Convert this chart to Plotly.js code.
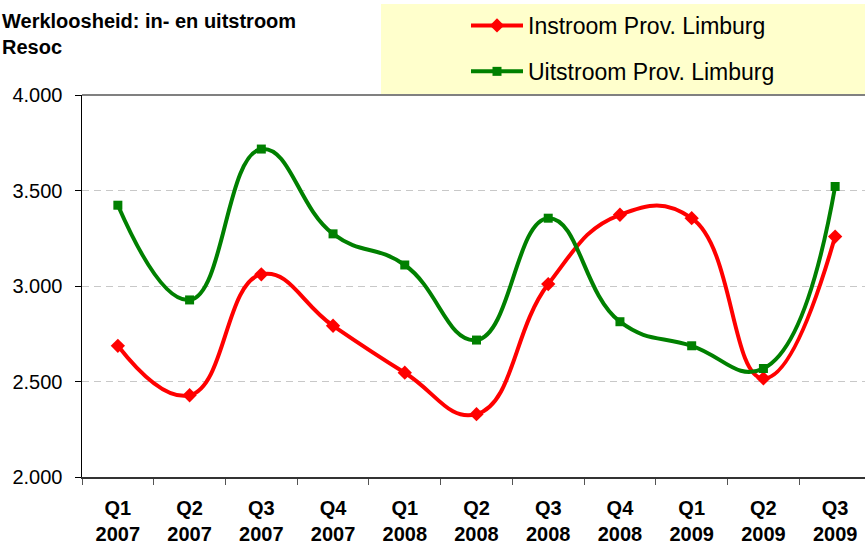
<!DOCTYPE html>
<html>
<head>
<meta charset="utf-8">
<script src="https://cdn.plot.ly/plotly-3.0.1.min.js"></script>
<style>
html,body{margin:0;padding:0;overflow:hidden;background:#fff;}
#chart{width:880px;height:544px;}
</style>
</head>
<body>
<div id="chart"></div>
<script>
var quarters = ['Q1','Q2','Q3','Q4','Q1','Q2','Q3','Q4','Q1','Q2','Q3'];
var years = ['2007','2007','2007','2007','2008','2008','2008','2008','2009','2009','2009'];
var instroom = [2687, 2428, 3061, 2792, 2546, 2329, 3010, 3373, 3355, 2516, 3259];
var uitstroom = [3423, 2927, 3717, 3273, 3110, 2717, 3355, 2813, 2687, 2568, 3521];
var seriesNames = ['Instroom Prov. Limburg', 'Uitstroom Prov. Limburg'];
var titleText = 'Werkloosheid: in- en uitstroom<br>Resoc';

var labels = quarters.map(function(q, i){ return q + '<br>' + years[i]; });

var W = 880, H = 544, ml = 82, mr = 9, mt = 95, mb = 67;
var pw = W - ml - mr, ph = H - mt - mb;
function px2x(p){ return (p - ml) / pw; }
function py2y(p){ return 1 + (mt - p) / ph; }

var FONT = 'Liberation Sans, Arial, sans-serif';

var traces = [
  {
    x: labels, y: instroom, name: seriesNames[0], type: 'scatter', mode: 'lines+markers',
    legendgroup: 'a',
    line: {color: '#FF0000', width: 4, shape: 'spline', smoothing: 1.3},
    marker: {symbol: 'diamond', size: 11, color: '#FF0000'}
  },
  {
    x: labels, y: uitstroom, name: seriesNames[1], type: 'scatter', mode: 'lines+markers',
    legendgroup: 'b',
    line: {color: '#008000', width: 4, shape: 'spline', smoothing: 1.3},
    marker: {symbol: 'square', size: 9, color: '#008000'}
  }
];

var layout = {
  width: W, height: H,
  margin: {l: ml, r: mr, t: mt, b: mb, pad: 0, autoexpand: false},
  paper_bgcolor: '#ffffff', plot_bgcolor: '#ffffff',
  separators: ',.',
  font: {family: FONT, color: '#000000'},
  showlegend: true,
  legend: {
    x: px2x(466), xanchor: 'left', xref: 'paper',
    y: py2y(4), yanchor: 'top', yref: 'paper',
    bgcolor: 'rgba(0,0,0,0)', borderwidth: 0,
    font: {family: FONT, size: 23, color: '#000000'},
    traceorder: 'grouped', tracegroupgap: 13,
    itemwidth: 52
  },
  xaxis: {
    type: 'category', range: [-0.5, 10.5],
    showgrid: false, zeroline: false,
    showline: true, linecolor: '#333333', linewidth: 1.5,
    ticks: 'outside', ticklen: 6, tickcolor: '#555555', tickwidth: 1,
    tickson: 'boundaries',
    tickfont: {family: FONT, size: 20, color: '#000000', weight: 'bold'},
    ticklabelstandoff: 12,
    automargin: false,
    fixedrange: true
  },
  yaxis: {
    range: [2000, 4000], dtick: 500, tick0: 2000,
    tickformat: ',.0f',
    showgrid: true, gridcolor: '#C8C8C8', gridwidth: 1, griddash: '7px,5px',
    zeroline: false,
    showline: true, linecolor: '#000000', linewidth: 1.5,
    ticks: 'outside', ticklen: 6, tickcolor: '#000000', tickwidth: 1,
    tickfont: {family: FONT, size: 20, color: '#000000'},
    ticklabelstandoff: 8,
    automargin: false,
    fixedrange: true
  },
  shapes: [
    {type: 'rect', xref: 'paper', yref: 'paper', layer: 'below',
     x0: px2x(381), x1: px2x(885), y0: 1, y1: py2y(4),
     fillcolor: '#FFFFCC', line: {width: 0}},
    {type: 'line', xref: 'paper', yref: 'paper', layer: 'above',
     x0: 0, x1: 1, y0: 1, y1: 1,
     line: {color: '#808080', width: 2}}
  ],
  annotations: [
    {text: titleText, showarrow: false, xref: 'paper', yref: 'paper',
     x: px2x(0), xanchor: 'left', align: 'left',
     y: py2y(8), yanchor: 'top',
     font: {family: FONT, size: 20, color: '#000000', weight: 'bold'}}
  ]
};

Plotly.newPlot('chart', traces, layout, {displayModeBar: false, staticPlot: true});
</script>
</body>
</html>
